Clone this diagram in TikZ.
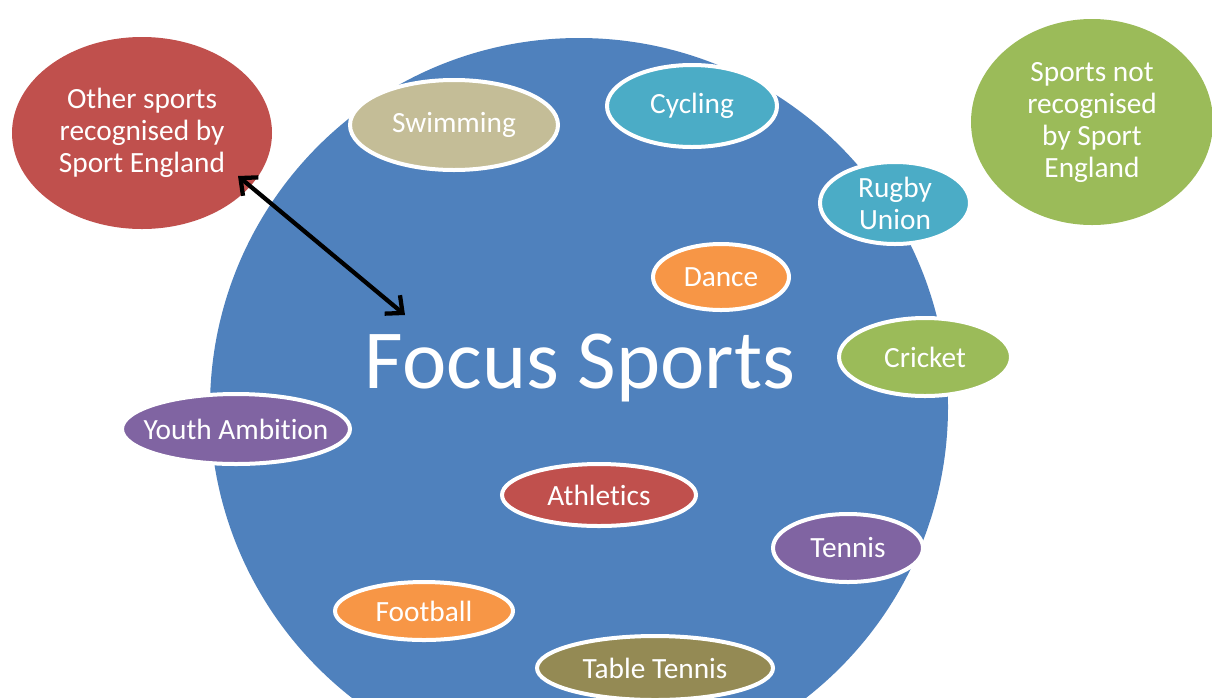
\documentclass[tikz,border=0pt]{standalone}
\usepackage{fontspec}
\setmainfont{Carlito}[Ligatures=NoCommon]
\usepackage{xcolor}
\usetikzlibrary{arrows.meta,shapes.geometric}

\definecolor{focusblue}{HTML}{4F81BD}
\definecolor{sportred}{HTML}{C0504D}
\definecolor{sportgreen}{HTML}{9BBB59}
\definecolor{sportaqua}{HTML}{4BACC6}
\definecolor{sportorange}{HTML}{F79646}
\definecolor{sportpurple}{HTML}{8064A2}
\definecolor{sporttan}{HTML}{C4BD97}
\definecolor{sportolive}{HTML}{948A54}

\begin{document}
\begin{tikzpicture}[x=0.75pt,y=-0.75pt,
 >={Straight Barb[length=10pt,width=18pt]},
 group/.style={ellipse,inner sep=0pt,text=white,align=center,font=\fontsize{22}{24}\selectfont},
 sport/.style={ellipse,inner sep=0pt,draw=white,line width=3pt,text=white,font=\fontsize{22}{24}\selectfont}]
 \useasboundingbox (0,0) rectangle (1212,697);
 \clip (0,0) rectangle (1212,697);

 \node[circle,fill=focusblue,inner sep=0pt,minimum size=738*0.75pt] (focus) at (579,407) {};
 \node[text=white,font=\fontsize{63}{70}\selectfont] (focustext) at (580,368) {Focus Sports};

 \node[group,fill=sportred,minimum width=260*0.75pt,minimum height=192*0.75pt] (other) at (142,133)
  {Other sports\\recognised by\\Sport England};
 \node[group,fill=sportgreen,minimum width=242*0.75pt,minimum height=206*0.75pt] (notrec) at (1092,122)
  {Sports not\\recognised\\by Sport\\England};

 \node[sport,fill=sporttan,minimum width=208*0.75pt,minimum height=90*0.75pt] (swimming) at (454,125) {Swimming};
 \node[sport,fill=sportaqua,minimum width=170*0.75pt,minimum height=82*0.75pt] (cycling) at (692,106) {Cycling};
 \node[sport,fill=sportaqua,minimum width=150*0.75pt,minimum height=82*0.75pt,align=center] (rugby) at (895,203) {Rugby\\Union};
 \node[sport,fill=sportorange,minimum width=136*0.75pt,minimum height=66*0.75pt] (dance) at (721,277) {Dance};
 \node[sport,fill=sportgreen,minimum width=172*0.75pt,minimum height=78*0.75pt] (cricket) at (925,357) {Cricket};
 \node[sport,fill=sportpurple,minimum width=228*0.75pt,minimum height=70*0.75pt] (youth) at (236,429) {\makebox[0pt]{Youth Ambition}};
 \node[sport,fill=sportred,minimum width=194*0.75pt,minimum height=62*0.75pt] (athletics) at (599,495) {Athletics};
 \node[sport,fill=sportpurple,minimum width=150*0.75pt,minimum height=68*0.75pt] (tennis) at (848,548) {Tennis};
 \node[sport,fill=sportorange,minimum width=178*0.75pt,minimum height=58*0.75pt] (football) at (424,611) {Football};
 \node[sport,fill=sportolive,minimum width=236*0.75pt,minimum height=64*0.75pt] (tabletennis) at (655,668) {Table Tennis};

 % link between the two groups
 \coordinate (linkA) at (238,176);
 \coordinate (linkB) at (405,315);
 \draw[<->,line width=3.2pt] (linkA) -- (linkB);
\end{tikzpicture}
\end{document}
